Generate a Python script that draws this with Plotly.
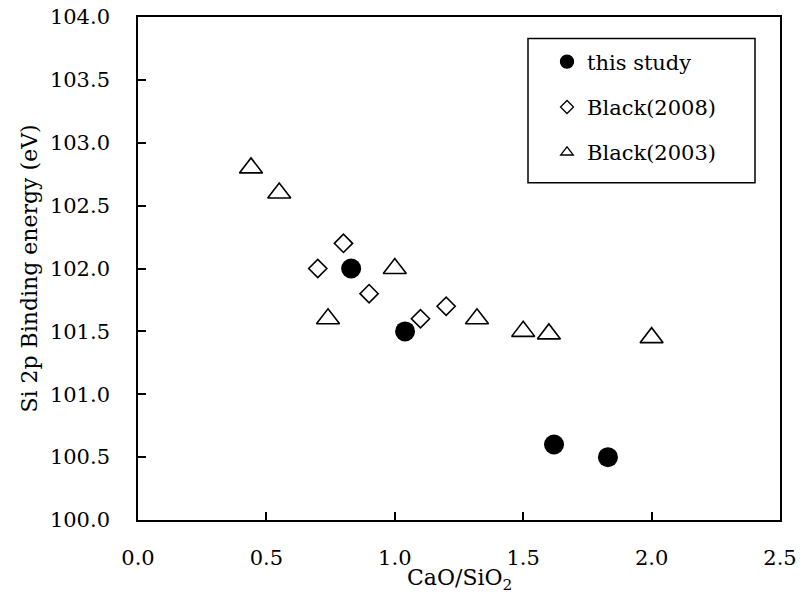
import plotly.graph_objects as go

# this study
study_x = [0.83, 1.04, 1.62, 1.83]
study_y = [102.0, 101.5, 100.6, 100.5]
# Black(2008)
b08_x = [0.70, 0.80, 0.90, 1.10, 1.20]
b08_y = [102.0, 102.2, 101.8, 101.6, 101.7]
# Black(2003)
b03_x = [0.44, 0.55, 0.74, 1.00, 1.32, 1.50, 1.60, 2.00]
b03_y = [102.8, 102.6, 101.6, 102.0, 101.6, 101.5, 101.48, 101.45]

names = ["this study", "Black(2008)", "Black(2003)"]
x_ticks = [0.0, 0.5, 1.0, 1.5, 2.0, 2.5]
y_ticks = [100.0, 100.5, 101.0, 101.5, 102.0, 102.5, 103.0, 103.5, 104.0]
x_title = "CaO/SiO<sub>2</sub>"
y_title = "Si 2p Binding energy (eV)"

FONT = "DejaVu Serif"
fig = go.Figure()

fig.add_trace(go.Scatter(x=study_x, y=study_y, mode="markers", showlegend=False,
                         marker=dict(symbol="circle", size=20, color="black")))
fig.add_trace(go.Scatter(x=b08_x, y=b08_y, mode="markers", showlegend=False,
                         marker=dict(symbol="diamond-open", size=14, color="black",
                                     line=dict(width=1.6, color="black"))))
fig.add_trace(go.Scatter(x=b03_x, y=b03_y, mode="markers", showlegend=False,
                         marker=dict(symbol="triangle-up-open", size=20, color="black",
                                     line=dict(width=1.6, color="black"))))

# legend entries
leg_syms = ["circle", "diamond-open", "triangle-up-open"]
leg_sizes = [13, 10, 11]
for i, (nm, sym, sz) in enumerate(zip(names, leg_syms, leg_sizes)):
    fig.add_trace(go.Scatter(x=[None], y=[None], mode="markers", name=nm,
                             legendgroup=f"g{i}",
                             marker=dict(symbol=sym, size=sz, color="black",
                                         line=dict(width=1.3, color="black"))))

axis_common = dict(showgrid=False, zeroline=False, showline=True, linecolor="black",
                   linewidth=1.6, mirror=True, ticks="inside", ticklen=8,
                   tickwidth=1.5, tickcolor="black", automargin=False,
                   tickfont=dict(family=FONT, size=21, color="black"))

fig.update_xaxes(range=[0, 2.5], tickvals=x_ticks,
                 ticktext=[f"{v:.1f}" for v in x_ticks], ticklabelstandoff=18,
                 **axis_common)
fig.update_yaxes(range=[100, 104], tickvals=y_ticks,
                 ticktext=[f"{v:.1f}" for v in y_ticks], ticklabelstandoff=22,
                 title=dict(text=y_title, standoff=6,
                            font=dict(family=FONT, size=22, color="black")),
                 **axis_common)

# x-axis title
fig.add_annotation(text=x_title, xref="paper", yref="paper", x=0.5, y=-(563 - 520) / 502.5,
                   xanchor="center", yanchor="top", showarrow=False,
                   font=dict(family=FONT, size=22, color="black"))

# legend box
fig.add_shape(type="rect", xref="paper", yref="paper",
              x0=(528 - 138) / 642, x1=(755 - 138) / 642,
              y0=1 - (183 - 17.5) / 502.5, y1=1 - (39 - 17.5) / 502.5,
              line=dict(color="black", width=1.5), fillcolor="rgba(0,0,0,0)")

fig.update_layout(
    width=800, height=608,
    margin=dict(l=138, r=20, t=17, b=88),
    paper_bgcolor="white", plot_bgcolor="white",
    font=dict(family=FONT, size=20, color="black"),
    legend=dict(x=(547 - 138) / 642, y=1 - (42 - 17.5) / 502.5, xanchor="left", yanchor="top",
                bgcolor="rgba(0,0,0,0)", borderwidth=0,
                traceorder="grouped", tracegroupgap=15,
                font=dict(family=FONT, size=21, color="black")),
)

fig.write_html("out.html")
